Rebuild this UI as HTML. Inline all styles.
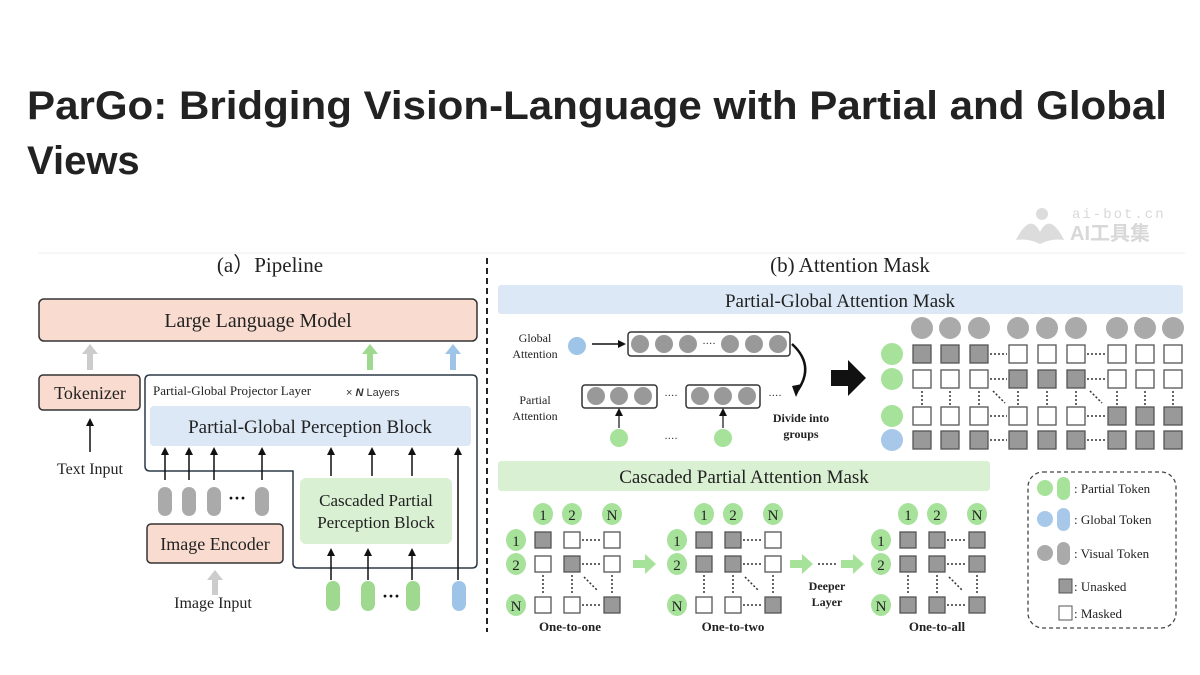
<!DOCTYPE html>
<html><head><meta charset="utf-8"><style>
html,body{margin:0;padding:0;background:#fff;width:1200px;height:675px;overflow:hidden}
svg{display:block}
.s{font-family:"Liberation Serif",serif;fill:#222}
</style></head><body>
<svg width="1200" height="675" viewBox="0 0 1200 675" xmlns="http://www.w3.org/2000/svg">
<defs>
<marker id="ah" markerWidth="8" markerHeight="8" refX="4" refY="4" orient="auto" markerUnits="userSpaceOnUse"><path d="M0,0 L8,4 L0,8 z" fill="#111"/></marker>
</defs>
<text x="27" y="119" font-family="Liberation Sans, sans-serif" font-weight="bold" font-size="40" fill="#222" textLength="1140" lengthAdjust="spacingAndGlyphs">ParGo: Bridging Vision-Language with Partial and Global</text>
<text x="27" y="174" font-family="Liberation Sans, sans-serif" font-weight="bold" font-size="40" fill="#222">Views</text>
<!-- watermark -->
<g fill="#dcdcdc"><circle cx="1042" cy="214" r="6"/><path d="M1016,240 Q1030,212 1040,232 Q1050,212 1064,240 Q1052,238 1040,244 Q1028,238 1016,240z"/></g>
<text x="1072" y="218" font-family="Liberation Mono, monospace" font-size="14" fill="#d8d8d8" letter-spacing="2">ai-bot.cn</text>
<text x="1070" y="240" font-family="Liberation Sans, 'Noto Sans CJK SC', sans-serif" font-weight="bold" font-size="20" fill="#d8d8d8">AI工具集</text>
<line x1="38" y1="253" x2="1185" y2="253" stroke="#eee"/>

<!-- (a) Pipeline -->
<text x="270" y="272" class="s" font-size="21" text-anchor="middle">(a）Pipeline</text>
<rect x="39" y="299" width="438" height="42" rx="5" fill="#f9dccf" stroke="#333" stroke-width="1.5"/>
<text x="258" y="327" class="s" font-size="20" text-anchor="middle">Large Language Model</text>
<g stroke-width="6"><line x1="90" y1="370" x2="90" y2="352" stroke="#ccc"/><line x1="370" y1="370" x2="370" y2="352" stroke="#9ed98f"/><line x1="453" y1="370" x2="453" y2="352" stroke="#9ec4e8"/></g>
<path d="M82,354 L90,344 L98,354z" fill="#ccc"/><path d="M362,354 L370,344 L378,354z" fill="#9ed98f"/><path d="M445,354 L453,344 L461,354z" fill="#9ec4e8"/>
<rect x="39" y="375" width="101" height="35" rx="4" fill="#f9dccf" stroke="#333" stroke-width="1.5"/>
<text x="90" y="399" class="s" font-size="18" text-anchor="middle">Tokenizer</text>
<line x1="90" y1="452" x2="90" y2="422" stroke="#111" stroke-width="1.5" marker-end="url(#ah)"/>
<text x="90" y="474" class="s" font-size="16" text-anchor="middle">Text Input</text>
<path d="M150,375 H472 Q477,375 477,380 V563 Q477,568 472,568 H298 Q293,568 293,563 V471 H150 Q145,471 145,466 V380 Q145,375 150,375z" fill="none" stroke="#2d3a48" stroke-width="1.5"/>
<text x="153" y="395" class="s" font-size="13">Partial-Global Projector Layer</text>
<text x="346" y="396" font-family="Liberation Sans,sans-serif" font-size="11" fill="#333">×  <tspan font-style="italic" font-weight="bold">N</tspan> Layers</text>
<rect x="150" y="406" width="321" height="40" rx="4" fill="#dce8f5"/>
<text x="310" y="433" class="s" font-size="19" text-anchor="middle">Partial-Global Perception Block</text>
<g stroke="#111" stroke-width="1.5">
<line x1="165" y1="480" x2="165" y2="451" marker-end="url(#ah)"/><line x1="189" y1="480" x2="189" y2="451" marker-end="url(#ah)"/><line x1="214" y1="480" x2="214" y2="451" marker-end="url(#ah)"/><line x1="262" y1="480" x2="262" y2="451" marker-end="url(#ah)"/>
<line x1="331" y1="476" x2="331" y2="451" marker-end="url(#ah)"/><line x1="372" y1="476" x2="372" y2="451" marker-end="url(#ah)"/><line x1="412" y1="476" x2="412" y2="451" marker-end="url(#ah)"/>
<line x1="458" y1="580" x2="458" y2="451" marker-end="url(#ah)"/>
<line x1="331" y1="580" x2="331" y2="552" marker-end="url(#ah)"/><line x1="368" y1="580" x2="368" y2="552" marker-end="url(#ah)"/><line x1="412" y1="580" x2="412" y2="552" marker-end="url(#ah)"/>
</g>
<g fill="#aaa"><rect x="158" y="487" width="14" height="29" rx="7"/><rect x="182" y="487" width="14" height="29" rx="7"/><rect x="207" y="487" width="14" height="29" rx="7"/><rect x="255" y="487" width="14" height="29" rx="7"/></g>
<text x="237" y="504" font-size="18" text-anchor="middle" font-weight="bold" fill="#111">···</text>
<rect x="147" y="524" width="136" height="39" rx="4" fill="#f9dccf" stroke="#333" stroke-width="1.5"/>
<text x="215" y="550" class="s" font-size="18" text-anchor="middle">Image Encoder</text>
<line x1="215" y1="595" x2="215" y2="578" stroke="#ccc" stroke-width="6"/><path d="M207,580 L215,570 L223,580z" fill="#ccc"/>
<text x="213" y="608" class="s" font-size="16" text-anchor="middle">Image Input</text>
<rect x="300" y="478" width="152" height="66" rx="6" fill="#d9f0d3"/>
<text x="376" y="506" class="s" font-size="17" text-anchor="middle">Cascaded Partial</text>
<text x="376" y="528" class="s" font-size="17" text-anchor="middle">Perception Block</text>
<g fill="#9ed98f"><rect x="326" y="581" width="14" height="30" rx="7"/><rect x="361" y="581" width="14" height="30" rx="7"/><rect x="406" y="581" width="14" height="30" rx="7"/></g>
<rect x="452" y="581" width="14" height="30" rx="7" fill="#9ec4e8"/>
<text x="391" y="602" font-size="18" text-anchor="middle" font-weight="bold" fill="#111">···</text>
<line x1="487" y1="258" x2="487" y2="632" stroke="#222" stroke-width="2" stroke-dasharray="6,4"/>

<!-- (b) -->
<text x="850" y="272" class="s" font-size="21" text-anchor="middle">(b) Attention Mask</text>
<rect x="498" y="285" width="685" height="29" rx="3" fill="#dce8f5"/>
<text x="840" y="307" class="s" font-size="19" text-anchor="middle">Partial-Global Attention Mask</text>
<text x="535" y="342" class="s" font-size="12" text-anchor="middle">Global</text>
<text x="535" y="358" class="s" font-size="12" text-anchor="middle">Attention</text>
<circle cx="577" cy="346" r="9" fill="#9ec4e8"/>
<line x1="592" y1="344" x2="622" y2="344" stroke="#111" stroke-width="1.5" marker-end="url(#ah)"/>
<rect x="628" y="332" width="162" height="24" rx="3" fill="#fff" stroke="#333" stroke-width="1.5"/>
<g fill="#999"><circle cx="640" cy="344" r="9"/><circle cx="664" cy="344" r="9"/><circle cx="688" cy="344" r="9"/><circle cx="730" cy="344" r="9"/><circle cx="754" cy="344" r="9"/><circle cx="778" cy="344" r="9"/></g>
<text x="709" y="347" font-size="10" text-anchor="middle" fill="#222">····</text>
<path d="M792,344 Q815,365 798,390" fill="none" stroke="#111" stroke-width="2.5"/><path d="M792,386 L802,384 L796,397z" fill="#111"/>
<text x="535" y="404" class="s" font-size="12" text-anchor="middle">Partial</text>
<text x="535" y="420" class="s" font-size="12" text-anchor="middle">Attention</text>
<rect x="582" y="385" width="75" height="23" rx="3" fill="#fff" stroke="#333" stroke-width="1.5"/>
<rect x="686" y="385" width="74" height="23" rx="3" fill="#fff" stroke="#333" stroke-width="1.5"/>
<g fill="#999"><circle cx="596" cy="396" r="9"/><circle cx="619" cy="396" r="9"/><circle cx="643" cy="396" r="9"/><circle cx="700" cy="396" r="9"/><circle cx="723" cy="396" r="9"/><circle cx="747" cy="396" r="9"/></g>
<text x="671" y="399" font-size="10" text-anchor="middle" fill="#222">····</text>
<text x="775" y="399" font-size="10" text-anchor="middle" fill="#222">····</text>
<g fill="#a6e29a"><circle cx="619" cy="438" r="9"/><circle cx="723" cy="438" r="9"/></g>
<text x="671" y="442" font-size="10" text-anchor="middle" fill="#222">····</text>
<line x1="619" y1="428" x2="619" y2="412" stroke="#111" stroke-width="1.2" marker-end="url(#ah)"/>
<line x1="723" y1="428" x2="723" y2="412" stroke="#111" stroke-width="1.2" marker-end="url(#ah)"/>
<text x="801" y="422" class="s" font-size="12" font-weight="bold" text-anchor="middle">Divide into</text>
<text x="801" y="438" class="s" font-size="12" font-weight="bold" text-anchor="middle">groups</text>
<path d="M831,370 H848 V360 L866,378 L848,396 V386 H831z" fill="#111"/>
<!-- big matrix -->
<g fill="#aaa">
<circle cx="922" cy="328" r="11"/><circle cx="950" cy="328" r="11"/><circle cx="979" cy="328" r="11"/><circle cx="1018" cy="328" r="11"/><circle cx="1047" cy="328" r="11"/><circle cx="1076" cy="328" r="11"/><circle cx="1117" cy="328" r="11"/><circle cx="1145" cy="328" r="11"/><circle cx="1173" cy="328" r="11"/>
</g>
<g fill="#a6e29a"><circle cx="892" cy="354" r="11"/><circle cx="892" cy="379" r="11"/><circle cx="892" cy="416" r="11"/></g>
<circle cx="892" cy="440" r="11" fill="#a8c8ea"/>
<g stroke="#555" stroke-width="1.3">
<!-- row1 -->
<rect x="913" y="345" width="18" height="18" fill="#999"/><rect x="941" y="345" width="18" height="18" fill="#999"/><rect x="970" y="345" width="18" height="18" fill="#999"/>
<rect x="1009" y="345" width="18" height="18" fill="#fff"/><rect x="1038" y="345" width="18" height="18" fill="#fff"/><rect x="1067" y="345" width="18" height="18" fill="#fff"/>
<rect x="1108" y="345" width="18" height="18" fill="#fff"/><rect x="1136" y="345" width="18" height="18" fill="#fff"/><rect x="1164" y="345" width="18" height="18" fill="#fff"/>
<!-- row2 -->
<rect x="913" y="370" width="18" height="18" fill="#fff"/><rect x="941" y="370" width="18" height="18" fill="#fff"/><rect x="970" y="370" width="18" height="18" fill="#fff"/>
<rect x="1009" y="370" width="18" height="18" fill="#999"/><rect x="1038" y="370" width="18" height="18" fill="#999"/><rect x="1067" y="370" width="18" height="18" fill="#999"/>
<rect x="1108" y="370" width="18" height="18" fill="#fff"/><rect x="1136" y="370" width="18" height="18" fill="#fff"/><rect x="1164" y="370" width="18" height="18" fill="#fff"/>
<!-- row3 -->
<rect x="913" y="407" width="18" height="18" fill="#fff"/><rect x="941" y="407" width="18" height="18" fill="#fff"/><rect x="970" y="407" width="18" height="18" fill="#fff"/>
<rect x="1009" y="407" width="18" height="18" fill="#fff"/><rect x="1038" y="407" width="18" height="18" fill="#fff"/><rect x="1067" y="407" width="18" height="18" fill="#fff"/>
<rect x="1108" y="407" width="18" height="18" fill="#999"/><rect x="1136" y="407" width="18" height="18" fill="#999"/><rect x="1164" y="407" width="18" height="18" fill="#999"/>
<!-- row4 -->
<rect x="913" y="431" width="18" height="18" fill="#999"/><rect x="941" y="431" width="18" height="18" fill="#999"/><rect x="970" y="431" width="18" height="18" fill="#999"/>
<rect x="1009" y="431" width="18" height="18" fill="#999"/><rect x="1038" y="431" width="18" height="18" fill="#999"/><rect x="1067" y="431" width="18" height="18" fill="#999"/>
<rect x="1108" y="431" width="18" height="18" fill="#999"/><rect x="1136" y="431" width="18" height="18" fill="#999"/><rect x="1164" y="431" width="18" height="18" fill="#999"/>
</g>
<g stroke="#333" stroke-width="1.5" stroke-dasharray="2,2">
<line x1="990" y1="354" x2="1007" y2="354"/><line x1="1087" y1="354" x2="1106" y2="354"/>
<line x1="990" y1="379" x2="1007" y2="379"/><line x1="1087" y1="379" x2="1106" y2="379"/>
<line x1="990" y1="416" x2="1007" y2="416"/><line x1="1087" y1="416" x2="1106" y2="416"/>
<line x1="990" y1="440" x2="1007" y2="440"/><line x1="1087" y1="440" x2="1106" y2="440"/>
<line x1="922" y1="391" x2="922" y2="405"/><line x1="950" y1="391" x2="950" y2="405"/><line x1="979" y1="391" x2="979" y2="405"/>
<line x1="1018" y1="391" x2="1018" y2="405"/><line x1="1047" y1="391" x2="1047" y2="405"/><line x1="1076" y1="391" x2="1076" y2="405"/>
<line x1="1117" y1="391" x2="1117" y2="405"/><line x1="1145" y1="391" x2="1145" y2="405"/><line x1="1173" y1="391" x2="1173" y2="405"/>
<line x1="993" y1="391" x2="1005" y2="403"/><line x1="1090" y1="391" x2="1102" y2="403"/>
</g>
<!-- cascaded -->
<rect x="498" y="461" width="492" height="30" rx="3" fill="#d9f0d3"/>
<text x="744" y="483" class="s" font-size="19" text-anchor="middle">Cascaded Partial Attention Mask</text>
<rect x="1028" y="472" width="148" height="156" rx="15" fill="none" stroke="#444" stroke-width="1.3" stroke-dasharray="4,3"/>
<circle cx="1045" cy="488" r="8" fill="#a6e29a"/><rect x="1057" y="477" width="13" height="23" rx="6.5" fill="#a6e29a"/>
<text x="1074" y="493" class="s" font-size="13">: Partial Token</text>
<circle cx="1045" cy="519" r="8" fill="#a8c8ea"/><rect x="1057" y="508" width="13" height="23" rx="6.5" fill="#a8c8ea"/>
<text x="1074" y="524" class="s" font-size="13">: Global Token</text>
<circle cx="1045" cy="553" r="8" fill="#aaa"/><rect x="1057" y="542" width="13" height="23" rx="6.5" fill="#aaa"/>
<text x="1074" y="558" class="s" font-size="13">: Visual Token</text>
<rect x="1059" y="579" width="13" height="14" fill="#999" stroke="#555"/>
<text x="1074" y="591" class="s" font-size="13">: Unasked</text>
<rect x="1059" y="606" width="13" height="14" fill="#fff" stroke="#555"/>
<text x="1074" y="618" class="s" font-size="13">: Masked</text>

<g id="m1">
<g fill="#a6e29a"><ellipse cx="543" cy="514" rx="10" ry="11"/><ellipse cx="572" cy="514" rx="10" ry="11"/><ellipse cx="612" cy="514" rx="10" ry="11"/><ellipse cx="516" cy="540" rx="10" ry="11"/><ellipse cx="516" cy="564" rx="10" ry="11"/><ellipse cx="516" cy="605" rx="10" ry="11"/></g>
<g class="s" font-size="15" text-anchor="middle"><text x="543" y="520">1</text><text x="572" y="520">2</text><text x="612" y="520">N</text><text x="516" y="546">1</text><text x="516" y="570">2</text><text x="516" y="611">N</text></g>
<g stroke="#555" stroke-width="1.3">
<rect x="535" y="532" width="16" height="16" fill="#999"/><rect x="564" y="532" width="16" height="16" fill="#fff"/><rect x="604" y="532" width="16" height="16" fill="#fff"/>
<rect x="535" y="556" width="16" height="16" fill="#fff"/><rect x="564" y="556" width="16" height="16" fill="#999"/><rect x="604" y="556" width="16" height="16" fill="#fff"/>
<rect x="535" y="597" width="16" height="16" fill="#fff"/><rect x="564" y="597" width="16" height="16" fill="#fff"/><rect x="604" y="597" width="16" height="16" fill="#999"/>
</g>
<g stroke="#333" stroke-width="1.5" stroke-dasharray="2,2"><line x1="582" y1="540" x2="602" y2="540"/><line x1="582" y1="564" x2="602" y2="564"/><line x1="582" y1="605" x2="602" y2="605"/><line x1="543" y1="575" x2="543" y2="595"/><line x1="572" y1="575" x2="572" y2="595"/><line x1="612" y1="575" x2="612" y2="595"/><line x1="584" y1="577" x2="597" y2="590"/></g>
<text x="570" y="631" class="s" font-size="13" font-weight="bold" text-anchor="middle">One-to-one</text>
</g>
<g transform="translate(161,0)">
<g fill="#a6e29a"><ellipse cx="543" cy="514" rx="10" ry="11"/><ellipse cx="572" cy="514" rx="10" ry="11"/><ellipse cx="612" cy="514" rx="10" ry="11"/><ellipse cx="516" cy="540" rx="10" ry="11"/><ellipse cx="516" cy="564" rx="10" ry="11"/><ellipse cx="516" cy="605" rx="10" ry="11"/></g>
<g class="s" font-size="15" text-anchor="middle"><text x="543" y="520">1</text><text x="572" y="520">2</text><text x="612" y="520">N</text><text x="516" y="546">1</text><text x="516" y="570">2</text><text x="516" y="611">N</text></g>
<g stroke="#555" stroke-width="1.3">
<rect x="535" y="532" width="16" height="16" fill="#999"/><rect x="564" y="532" width="16" height="16" fill="#999"/><rect x="604" y="532" width="16" height="16" fill="#fff"/>
<rect x="535" y="556" width="16" height="16" fill="#999"/><rect x="564" y="556" width="16" height="16" fill="#999"/><rect x="604" y="556" width="16" height="16" fill="#fff"/>
<rect x="535" y="597" width="16" height="16" fill="#fff"/><rect x="564" y="597" width="16" height="16" fill="#fff"/><rect x="604" y="597" width="16" height="16" fill="#999"/>
</g>
<g stroke="#333" stroke-width="1.5" stroke-dasharray="2,2"><line x1="582" y1="540" x2="602" y2="540"/><line x1="582" y1="564" x2="602" y2="564"/><line x1="582" y1="605" x2="602" y2="605"/><line x1="543" y1="575" x2="543" y2="595"/><line x1="572" y1="575" x2="572" y2="595"/><line x1="612" y1="575" x2="612" y2="595"/><line x1="584" y1="577" x2="597" y2="590"/></g>
<text x="572" y="631" class="s" font-size="13" font-weight="bold" text-anchor="middle">One-to-two</text>
</g>
<g transform="translate(365,0)">
<g fill="#a6e29a"><ellipse cx="543" cy="514" rx="10" ry="11"/><ellipse cx="572" cy="514" rx="10" ry="11"/><ellipse cx="612" cy="514" rx="10" ry="11"/><ellipse cx="516" cy="540" rx="10" ry="11"/><ellipse cx="516" cy="564" rx="10" ry="11"/><ellipse cx="516" cy="605" rx="10" ry="11"/></g>
<g class="s" font-size="15" text-anchor="middle"><text x="543" y="520">1</text><text x="572" y="520">2</text><text x="612" y="520">N</text><text x="516" y="546">1</text><text x="516" y="570">2</text><text x="516" y="611">N</text></g>
<g stroke="#555" stroke-width="1.3" fill="#999">
<rect x="535" y="532" width="16" height="16"/><rect x="564" y="532" width="16" height="16"/><rect x="604" y="532" width="16" height="16"/>
<rect x="535" y="556" width="16" height="16"/><rect x="564" y="556" width="16" height="16"/><rect x="604" y="556" width="16" height="16"/>
<rect x="535" y="597" width="16" height="16"/><rect x="564" y="597" width="16" height="16"/><rect x="604" y="597" width="16" height="16"/>
</g>
<g stroke="#333" stroke-width="1.5" stroke-dasharray="2,2"><line x1="582" y1="540" x2="602" y2="540"/><line x1="582" y1="564" x2="602" y2="564"/><line x1="582" y1="605" x2="602" y2="605"/><line x1="543" y1="575" x2="543" y2="595"/><line x1="572" y1="575" x2="572" y2="595"/><line x1="612" y1="575" x2="612" y2="595"/><line x1="584" y1="577" x2="597" y2="590"/></g>
<text x="572" y="631" class="s" font-size="13" font-weight="bold" text-anchor="middle">One-to-all</text>
</g>
<g fill="#a6e29a">
<path d="M633,560 H645 V554 L656,564 L645,574 V568 H633z"/>
<path d="M790,560 H802 V554 L813,564 L802,574 V568 H790z"/>
<path d="M841,560 H853 V554 L864,564 L853,574 V568 H841z"/>
</g>
<line x1="818" y1="564" x2="836" y2="564" stroke="#333" stroke-width="1.5" stroke-dasharray="2,2"/>
<text x="827" y="590" class="s" font-size="12" font-weight="bold" text-anchor="middle">Deeper</text>
<text x="827" y="606" class="s" font-size="12" font-weight="bold" text-anchor="middle">Layer</text>
</svg>
</body></html>
